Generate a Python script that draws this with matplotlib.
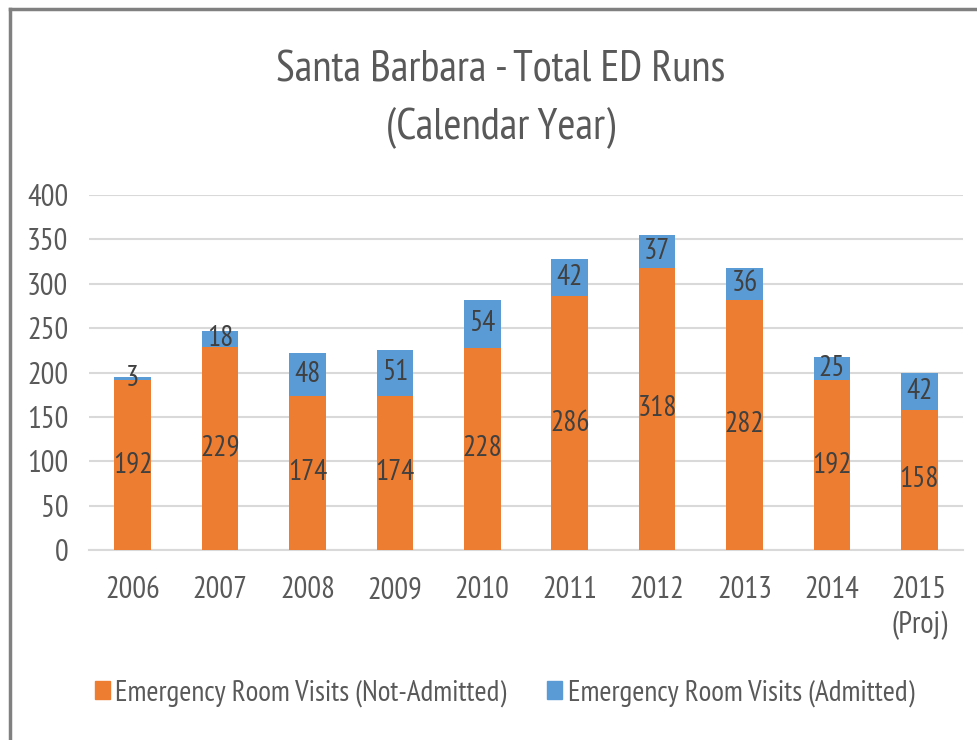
import matplotlib
matplotlib.use("Agg")
import matplotlib.pyplot as plt
from matplotlib.lines import Line2D
from matplotlib.patches import Patch
import numpy as np

years = ["2006", "2007", "2008", "2009", "2010", "2011", "2012", "2013", "2014", "2015\n(Proj)"]
not_admitted = [192, 229, 174, 174, 228, 286, 318, 282, 192, 158]
admitted = [3, 18, 48, 51, 54, 42, 37, 36, 25, 42]
yticks = [0, 50, 100, 150, 200, 250, 300, 350, 400]

ORANGE = "#ED7D31"
BLUE = "#5B9BD5"
TXT = "#595959"
LBL = "#404040"

plt.rcParams["font.family"] = ["PT Sans Narrow", "DejaVu Sans"]

fig = plt.figure(figsize=(9.78, 7.40), dpi=100)
ax = fig.add_axes([89 / 978, 1 - 550 / 740, (963 - 89) / 978, (550 - 195) / 740])

x = np.arange(len(years))
w = 0.42
b1 = ax.bar(x, not_admitted, w, color=ORANGE, zorder=3)
b2 = ax.bar(x, admitted, w, bottom=not_admitted, color=BLUE, zorder=3)

ax.bar_label(b1, label_type="center", fontsize=21, color=LBL)
ax.bar_label(b2, label_type="center", fontsize=21, color=LBL)

ax.set_xlim(-0.5, len(years) - 0.5)
ax.set_ylim(0, 400)
ax.set_yticks(yticks)
ax.set_xticks(x)
ax.set_xticklabels(years, linespacing=1.3)
ax.tick_params(axis="both", length=0, labelsize=22, colors=TXT)
ax.tick_params(axis="y", pad=15)
ax.tick_params(axis="x", pad=19)
ax.yaxis.grid(True, color="#D9D9D9", linewidth=1.5, zorder=0)
for s in ["top", "right", "left"]:
    ax.spines[s].set_visible(False)
ax.spines["bottom"].set_color("#D9D9D9")
ax.spines["bottom"].set_linewidth(1.5)

fig.text(0.512, 1 - 70 / 740, "Santa Barbara - Total ED Runs", ha="center", va="center",
         fontsize=31.5, color=TXT)
fig.text(0.512, 1 - 128 / 740, "(Calendar Year)", ha="center", va="center",
         fontsize=31.5, color=TXT)

handles = [Patch(color=ORANGE, label="Emergency Room Visits (Not-Admitted)"),
           Patch(color=BLUE, label="Emergency Room Visits (Admitted)")]
fig.legend(handles=handles, loc="center", bbox_to_anchor=(0.516, 1 - 693 / 740), ncol=2,
           frameon=False, fontsize=21, labelcolor=TXT, handlelength=0.5, handleheight=0.55,
           handletextpad=0.2, columnspacing=1.4)

# chart frame (only top and left edge visible in the crop)
fig.add_artist(Line2D([10 / 978, 1], [1 - 9 / 740] * 2, color="#808080", lw=2.5))
fig.add_artist(Line2D([10 / 978] * 2, [0, 1 - 9 / 740], color="#808080", lw=2.5))

fig.savefig("out.png", dpi=100)
